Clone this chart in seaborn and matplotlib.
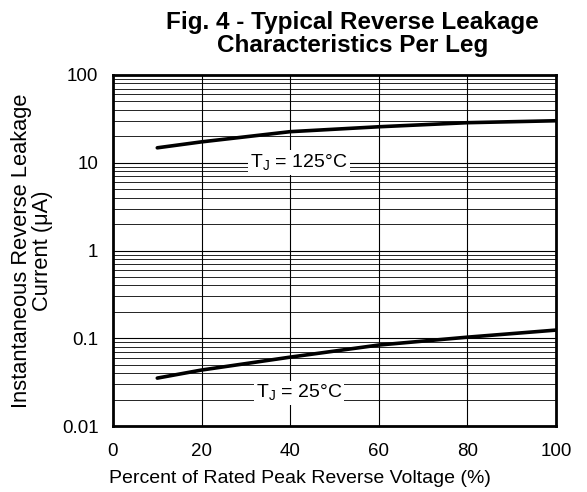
import matplotlib
matplotlib.use("Agg")
import matplotlib.pyplot as plt
import numpy as np
import pandas as pd
import seaborn as sns

# percent of rated peak reverse voltage
voltage_pct = [10, 20, 40, 60, 80, 100]
# leakage current (uA)
leak_125c = [14.8, 17.3, 22.6, 25.7, 28.6, 30.1]
leak_25c = [0.0352, 0.0435, 0.061, 0.0838, 0.103, 0.124]

x_ticks = [0, 20, 40, 60, 80, 100]
y_ticks = [0.01, 0.1, 1, 10, 100]
y_tick_labels = ["0.01", "0.1", "1", "10", "100"]

sns.set_style("white", {"text.color": "black", "axes.labelcolor": "black",
                        "xtick.color": "black", "ytick.color": "black"})
plt.rcParams["font.family"] = ["Liberation Sans", "DejaVu Sans"]
plt.rcParams["mathtext.fontset"] = "custom"
plt.rcParams["mathtext.rm"] = "Liberation Sans"

df = pd.DataFrame({
    "pct": voltage_pct * 2,
    "current": leak_125c + leak_25c,
    "tj": ["125"] * len(voltage_pct) + ["25"] * len(voltage_pct),
})

fig = plt.figure(figsize=(5.87, 4.92), dpi=100)
ax = fig.add_axes([0.1925, 0.134, 0.7545, 0.7136])

ax.set_yscale("log")
ax.set_xlim(0, 100)
ax.set_ylim(0.01, 100)

# grid: verticals every 20, horizontals at every decade step
for xv in x_ticks[1:-1]:
    ax.axvline(xv, color="black", lw=0.8, zorder=1)
for dec in [0.01, 0.1, 1, 10]:
    ax.axhline(dec, color="black", lw=0.8, zorder=1)
    for m in range(2, 10):
        ax.axhline(dec * m, color="black", lw=0.6, zorder=1)

sns.lineplot(data=df, x="pct", y="current", units="tj", estimator=None,
             color="black", lw=2.6, ax=ax, zorder=3, legend=False)

box = dict(facecolor="white", edgecolor="none", pad=1.5)
ax.text(42, 10, "T$_\\mathregular{J}$ = 125°C", ha="center", va="center",
        fontsize=14, bbox=box, zorder=4)
ax.text(42, 0.0238, "T$_\\mathregular{J}$ = 25°C", ha="center", va="center",
        fontsize=14, bbox=box, zorder=4)

ax.set_xticks(x_ticks)
ax.set_yticks(y_ticks)
ax.set_yticklabels(y_tick_labels)
ax.minorticks_off()
ax.tick_params(axis="both", labelsize=13.5, length=0, colors="black")
ax.tick_params(axis="x", pad=12)
ax.tick_params(axis="y", pad=10.5)
for spine in ax.spines.values():
    spine.set_visible(True)
    spine.set_linewidth(2)
    spine.set_color("black")

ax.set_xlabel("Percent of Rated Peak Reverse Voltage (%)", fontsize=14)
ax.set_ylabel("Instantaneous Reverse Leakage\nCurrent (\u03bcA)", fontsize=15.75,
              linespacing=1.0)
ax.xaxis.set_label_coords(0.422, -0.125)
ax.yaxis.set_label_coords(-0.135, 0.5)
fig.suptitle("Fig. 4 - Typical Reverse Leakage\nCharacteristics Per Leg",
             fontsize=17.5, fontweight="bold", x=0.6, y=0.977, linespacing=1.0)

fig.savefig("out.png", dpi=100)
